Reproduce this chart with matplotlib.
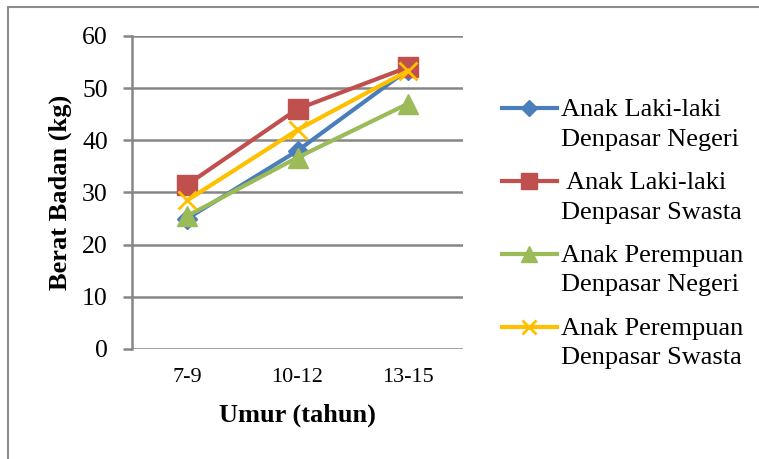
import matplotlib.pyplot as plt
from matplotlib.patches import Rectangle

# data
kategori = ['7-9', '10-12', '13-15']
laki_negeri = [25.0, 38.0, 53.5]
laki_swasta = [31.5, 46.0, 54.0]
perempuan_negeri = [25.5, 36.7, 47.0]
perempuan_swasta = [28.5, 42.0, 53.3]
label_seri = ['Anak Laki-laki\nDenpasar Negeri',
              ' Anak Laki-laki\nDenpasar Swasta',
              'Anak Perempuan\nDenpasar Negeri',
              'Anak Perempuan\nDenpasar Swasta']

plt.rcParams['font.family'] = ['Liberation Serif', 'DejaVu Serif']

fig = plt.figure(figsize=(7.59, 4.59), dpi=100)
# outer frame
fig.patches.append(Rectangle((8 / 759, -0.05), 1.1, 1 - 7 / 459 + 0.05,
                             transform=fig.transFigure, fill=False,
                             edgecolor='#8c8c8c', linewidth=1.5))

ax = fig.add_axes([0.174, 0.2397, 0.436, 0.682])
x = range(len(kategori))

ax.plot(x, laki_negeri, color='#4a7ebb', lw=3, marker='D', ms=10, label=label_seri[0])
ax.plot(x, laki_swasta, color='#c0504d', lw=3, marker='s', ms=14, label=label_seri[1])
ax.plot(x, perempuan_negeri, color='#9bbb59', lw=3, marker='^', ms=14, label=label_seri[2])
ax.plot(x, perempuan_swasta, color='#ffc000', lw=3, marker='x', ms=13, mew=2, label=label_seri[3])

ax.set_xlim(-0.5, 2.5)
ax.set_ylim(0, 60)
ax.set_yticks(range(0, 61, 10))
ax.set_xticks(list(x))
ax.set_xticklabels(kategori)
ax.grid(axis='y', color='#868686', lw=1.8)
ax.set_axisbelow(True)
for s in ['top', 'right', 'bottom']:
    ax.spines[s].set_visible(False)
ax.spines['left'].set_color('#868686')
ax.spines['left'].set_linewidth(1.8)
ax.tick_params(axis='y', length=6.5, width=1.8, color='#868686', labelsize=18.5, pad=11)
ax.tick_params(axis='x', length=0, labelsize=16, pad=14)

ax.set_ylabel('Berat Badan (kg)', fontsize=19, fontweight='bold')
ax.set_xlabel('Umur (tahun)', fontsize=19, fontweight='bold')
ax.yaxis.set_label_coords(-0.2175, 0.5)
ax.yaxis.label.set_va('center')
ax.xaxis.set_label_coords(0.5, -0.211)
ax.xaxis.label.set_va('center')

leg = ax.legend(loc='upper left', bbox_to_anchor=(1.077, 0.84), frameon=False,
                fontsize=19, handlelength=2.1, handletextpad=0.15,
                labelspacing=0.8, borderpad=0, markerscale=0.8)
for t in leg.get_texts():
    t.set_linespacing(1.45)
for hp in leg._legend_handle_box.get_children()[0].get_children():
    hp.align = 'top'

fig.savefig('out.png', dpi=100)
